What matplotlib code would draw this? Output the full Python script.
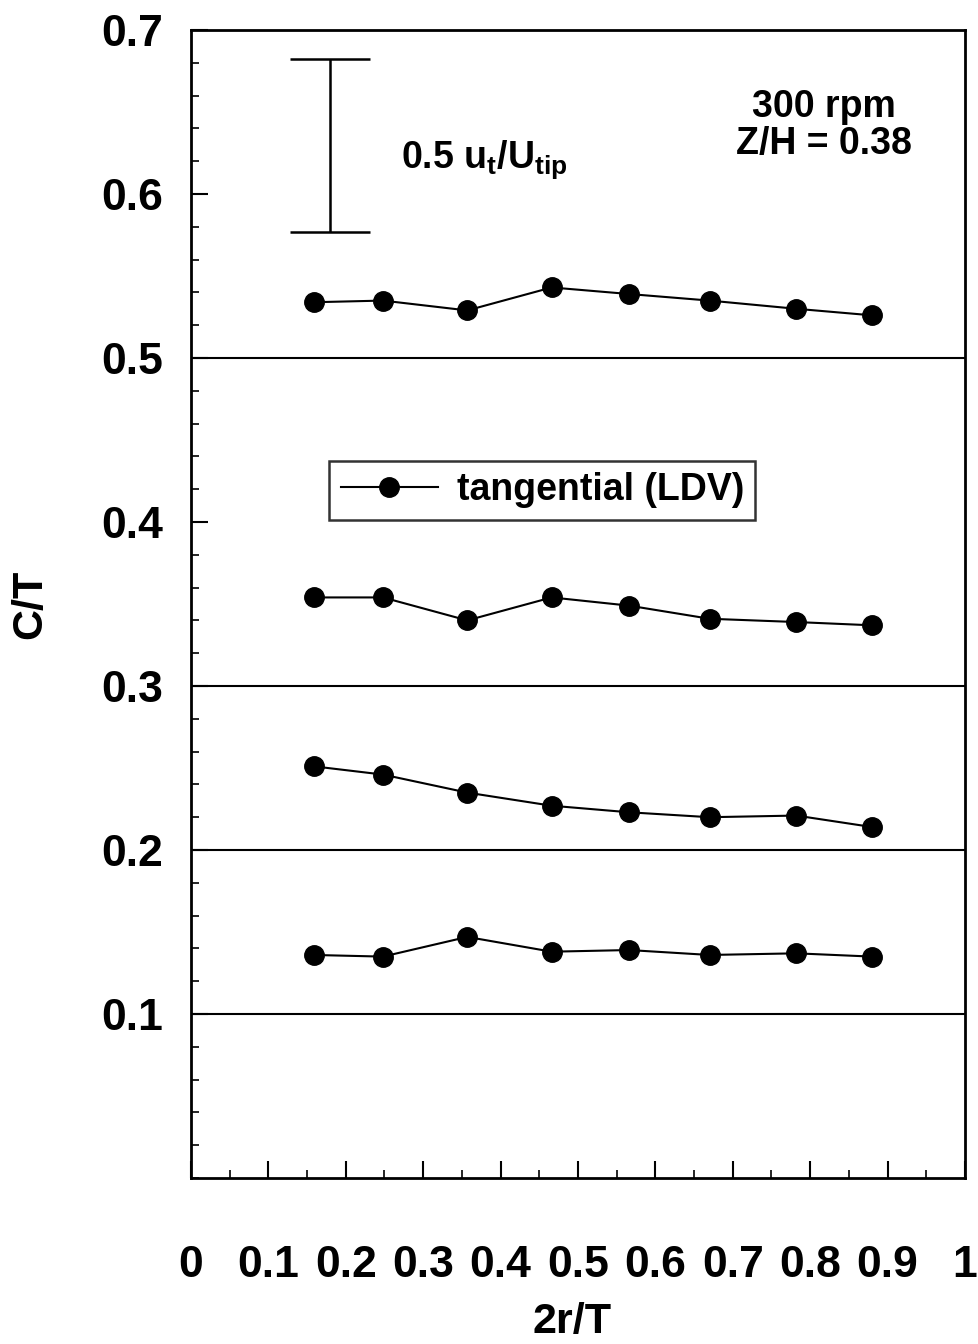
import numpy as np
import matplotlib
matplotlib.use("Agg")
import matplotlib.pyplot as plt
from matplotlib.ticker import MultipleLocator

plt.rcParams['font.family'] = ['Liberation Sans', 'DejaVu Sans']
plt.rcParams['font.weight'] = 'bold'
plt.rcParams['mathtext.fontset'] = 'custom'
plt.rcParams['mathtext.rm'] = 'Liberation Sans:bold'
plt.rcParams['mathtext.default'] = 'rm'

# radial positions (2r/T)
r = [0.159, 0.248, 0.357, 0.466, 0.566, 0.670, 0.782, 0.880]

# baselines (C/T) and profiles
baselines = [0.5, 0.3, 0.2, 0.1]
prof_05 = [0.534, 0.535, 0.529, 0.543, 0.539, 0.535, 0.530, 0.526]
prof_03 = [0.354, 0.354, 0.340, 0.354, 0.349, 0.341, 0.339, 0.337]
prof_02 = [0.251, 0.246, 0.235, 0.227, 0.223, 0.220, 0.221, 0.214]
prof_01 = [0.136, 0.135, 0.147, 0.138, 0.139, 0.136, 0.137, 0.135]

# scale bar for 0.5 u_t/U_tip
bar_x = 0.18
bar_lo, bar_hi = 0.577, 0.682

fig = plt.figure(figsize=(9.79, 13.44), dpi=100)
ax = fig.add_axes([0.195, 0.1235, 0.7907, 0.8542])

for b in baselines:
    ax.axhline(b, color='black', lw=1.5)

first = True
for p in [prof_05, prof_03, prof_02, prof_01]:
    ax.plot(r, p, '-o', color='black', lw=1.5, markersize=14,
            label='tangential (LDV)' if first else None)
    first = False

ax.errorbar([bar_x], [(bar_lo + bar_hi) / 2], yerr=[(bar_hi - bar_lo) / 2],
            color='black', lw=1.8, capsize=29, capthick=1.8)

ax.text(0.271, 0.616, r'0.5 u$_t$/U$_{tip}$', fontsize=27, fontweight='bold',
        va='baseline')
ax.text(0.818, 0.664, '300 rpm\nZ/H = 0.38', fontsize=27, fontweight='bold',
        ha='center', va='top', linespacing=1.05)

leg = ax.legend(loc='center', bbox_to_anchor=(0.454, 0.599), fontsize=27,
                frameon=True, fancybox=False, numpoints=1, handlelength=2.6,
                borderpad=0.3, handletextpad=0.5, borderaxespad=0)
leg.get_frame().set_edgecolor('black')
leg.get_frame().set_linewidth(1.8)

ax.set_xlim(0, 1)
ax.set_ylim(0, 0.7)
ax.xaxis.set_minor_locator(MultipleLocator(0.05))
ax.yaxis.set_minor_locator(MultipleLocator(0.02))
ax.set_yticks([0.1, 0.2, 0.3, 0.4, 0.5, 0.6, 0.7])
ax.set_yticklabels(['0.1', '0.2', '0.3', '0.4', '0.5', '0.6', '0.7'])
ax.set_xticks(np.arange(0, 1.01, 0.1))
ax.set_xticklabels(['0', '0.1', '0.2', '0.3', '0.4', '0.5', '0.6', '0.7', '0.8', '0.9', '1'])

ax.tick_params(which='major', direction='in', length=12, width=1.5, labelsize=32, top=False, right=False)
ax.tick_params(which='minor', direction='in', length=6, width=1.2, top=False, right=False)
ax.tick_params(axis='x', which='major', pad=48)
ax.tick_params(axis='y', which='major', pad=20)
for s in ax.spines.values():
    s.set_linewidth(2)

ax.set_xlabel('2r/T', fontsize=31, fontweight='bold')
ax.set_ylabel('C/T', fontsize=31, fontweight='bold')
ax.xaxis.set_label_coords(0.492, -0.108)
ax.yaxis.set_label_coords(-0.182, 0.5)

fig.savefig('out.png', dpi=100)
